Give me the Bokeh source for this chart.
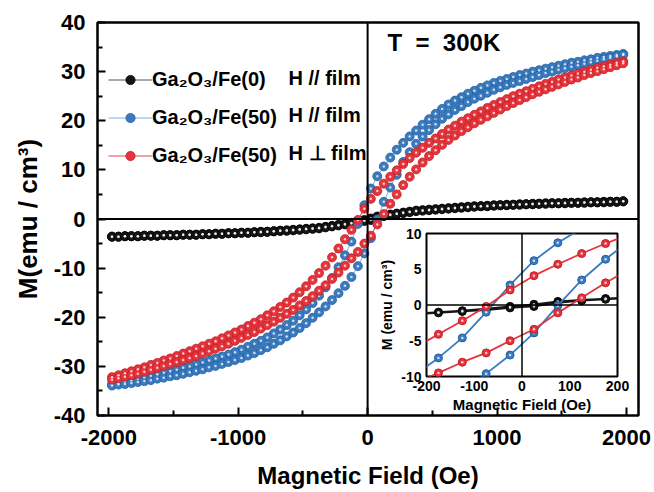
from bokeh.plotting import figure
from bokeh.models import Range1d, FixedTicker, Span, Label, Legend, LegendItem
from bokeh.layouts import column
from bokeh.embed import file_html
from bokeh.resources import INLINE

FONT = "Liberation Sans"

# Magnetic field grid (Oe), ascending
H = [-1975, -1925, -1875, -1825, -1775, -1725, -1675, -1625, -1575, -1525,
     -1475, -1425, -1375, -1325, -1275, -1225, -1175, -1125, -1075, -1025,
     -975, -925, -875, -825, -775, -725, -675, -625, -575, -525,
     -475, -425, -375, -325, -275, -225, -175, -125, -75, -25,
     25, 75, 125, 175, 225, 275, 325, 375, 425, 475,
     525, 575, 625, 675, 725, 775, 825, 875, 925, 975,
     1025, 1075, 1125, 1175, 1225, 1275, 1325, 1375, 1425, 1475,
     1525, 1575, 1625, 1675, 1725, 1775, 1825, 1875, 1925, 1975]

# Ga2O3/Fe(0), H // film  (emu/cm3)
black_upper = [-3.6, -3.6, -3.5, -3.5, -3.5, -3.4, -3.4, -3.4, -3.3, -3.3,
               -3.3, -3.2, -3.2, -3.2, -3.1, -3.1, -3.0, -3.0, -2.9, -2.9,
               -2.8, -2.8, -2.7, -2.6, -2.6, -2.5, -2.4, -2.3, -2.2, -2.1,
               -2.0, -1.9, -1.8, -1.6, -1.4, -1.2, -1.0, -0.8, -0.5, -0.2,
               0.1, 0.5, 0.7, 0.9, 1.1, 1.3, 1.5, 1.7, 1.8, 1.9,
               2.0, 2.1, 2.2, 2.3, 2.4, 2.5, 2.6, 2.6, 2.7, 2.8,
               2.8, 2.9, 2.9, 3.0, 3.0, 3.1, 3.1, 3.2, 3.2, 3.2,
               3.3, 3.3, 3.3, 3.4, 3.4, 3.4, 3.5, 3.5, 3.5, 3.6]
black_lower = [-3.6, -3.6, -3.5, -3.5, -3.5, -3.4, -3.4, -3.4, -3.3, -3.3,
               -3.3, -3.2, -3.2, -3.2, -3.1, -3.1, -3.0, -3.0, -2.9, -2.9,
               -2.8, -2.8, -2.7, -2.7, -2.6, -2.5, -2.4, -2.4, -2.3, -2.2,
               -2.1, -2.0, -1.9, -1.7, -1.5, -1.3, -1.1, -0.9, -0.7, -0.4,
               -0.2, 0.3, 0.6, 0.8, 1.0, 1.2, 1.4, 1.6, 1.7, 1.8,
               1.9, 2.0, 2.1, 2.2, 2.3, 2.4, 2.5, 2.6, 2.6, 2.7,
               2.8, 2.8, 2.9, 2.9, 3.0, 3.0, 3.1, 3.1, 3.2, 3.2,
               3.2, 3.3, 3.3, 3.3, 3.4, 3.4, 3.4, 3.5, 3.5, 3.6]

# Ga2O3/Fe(50), H // film
blue_upper = [-33.7, -33.4, -33.1, -32.8, -32.5, -32.2, -31.9, -31.6, -31.3, -31.0,
              -30.7, -30.3, -30.0, -29.6, -29.2, -28.8, -28.4, -28.0, -27.6, -27.1,
              -26.6, -26.0, -25.4, -24.8, -24.1, -23.3, -22.5, -21.6, -20.7, -19.6,
              -18.4, -17.1, -15.6, -13.9, -12.0, -9.8, -7.4, -4.6, -1.0, 2.8,
              6.2, 8.7, 10.7, 12.5, 14.1, 15.5, 16.8, 18.0, 19.2, 20.3,
              21.4, 22.4, 23.3, 24.1, 24.8, 25.5, 26.1, 26.7, 27.2, 27.7,
              28.1, 28.5, 28.9, 29.3, 29.6, 30.0, 30.3, 30.6, 30.9, 31.2,
              31.5, 31.8, 32.0, 32.3, 32.5, 32.8, 33.0, 33.2, 33.4, 33.6]
blue_lower = [-33.9, -33.7, -33.6, -33.4, -33.2, -33.0, -32.8, -32.5, -32.3, -32.0,
              -31.8, -31.5, -31.2, -30.9, -30.6, -30.2, -29.9, -29.5, -29.1, -28.7,
              -28.3, -27.8, -27.3, -26.7, -26.1, -25.4, -24.7, -23.9, -23.1, -22.2,
              -21.2, -20.1, -19.0, -17.8, -16.5, -15.1, -13.6, -11.8, -9.6, -7.0,
              -3.9, -0.1, 3.5, 6.4, 9.0, 11.6, 13.6, 15.3, 16.8, 18.1,
              19.3, 20.4, 21.3, 22.2, 23.0, 23.8, 24.5, 25.1, 25.7, 26.3,
              26.8, 27.3, 27.7, 28.1, 28.5, 28.9, 29.3, 29.7, 30.0, 30.4,
              30.7, 31.0, 31.3, 31.6, 31.9, 32.2, 32.5, 32.8, 33.1, 33.4]

# Ga2O3/Fe(50), H perpendicular to film
red_upper = [-32.2, -31.8, -31.4, -31.0, -30.6, -30.2, -29.7, -29.3, -28.8, -28.4,
             -27.9, -27.4, -26.9, -26.4, -25.9, -25.4, -24.9, -24.3, -23.7, -23.1,
             -22.5, -21.8, -21.1, -20.4, -19.6, -18.8, -17.9, -17.0, -16.0, -14.9,
             -13.7, -12.4, -11.0, -9.5, -7.8, -6.0, -4.1, -2.2, -0.2, 2.1,
             4.1, 5.7, 7.2, 8.6, 9.9, 11.2, 12.4, 13.5, 14.5, 15.5,
             16.4, 17.3, 18.2, 19.0, 19.8, 20.5, 21.2, 21.9, 22.6, 23.2,
             23.8, 24.4, 25.0, 25.5, 26.0, 26.5, 27.0, 27.5, 27.9, 28.4,
             28.8, 29.2, 29.6, 30.0, 30.4, 30.8, 31.1, 31.4, 31.8, 32.1]
red_lower = [-32.7, -32.4, -32.1, -31.8, -31.5, -31.1, -30.7, -30.3, -29.9, -29.5,
             -29.1, -28.7, -28.3, -27.9, -27.4, -26.9, -26.4, -25.9, -25.4, -24.8,
             -24.2, -23.6, -23.0, -22.3, -21.6, -20.9, -20.1, -19.3, -18.5, -17.6,
             -16.7, -15.7, -14.6, -13.5, -12.2, -10.9, -9.5, -8.0, -6.7, -5.0,
             -3.4, -1.1, 1.0, 3.1, 5.0, 6.9, 8.6, 10.1, 11.5, 12.8,
             14.0, 15.1, 16.1, 17.0, 17.9, 18.7, 19.5, 20.2, 20.9, 21.6,
             22.3, 23.0, 23.6, 24.2, 24.8, 25.4, 25.9, 26.4, 26.9, 27.4,
             27.9, 28.4, 28.8, 29.3, 29.7, 30.1, 30.5, 30.9, 31.3, 31.7]

series_names = ["Ga\u2082O\u2083/Fe(0)", "Ga\u2082O\u2083/Fe(50)", "Ga\u2082O\u2083/Fe(50)"]
field_dirs = ["H // film", "H // film", "H \u22a5 film"]
temp_text = "T\u00a0\u00a0=\u00a0\u00a0300K"

x_ticks = [-2000, -1000, 0, 1000, 2000]
x_tick_labels = ["-2000", "-1000", "0", "1000", "2000"]
x_minor = [-1500, -500, 500, 1500]
y_ticks = [-40, -30, -20, -10, 0, 10, 20, 30, 40]
y_tick_labels = ["-40", "-30", "-20", "-10", "0", "10", "20", "30", "40"]
y_minor = [-35, -25, -15, -5, 5, 15, 25, 35]

in_x_ticks = [-200, -100, 0, 100, 200]
in_x_labels = ["-200", "-100", "0", "100", "200"]
in_y_ticks = [-10, -5, 0, 5, 10]
in_y_labels = ["-10", "-5", "0", "5", "10"]

styles = [
    dict(fill="#151515", edge="#000000", line="#555555"),
    dict(fill="#3a7bc0", edge="#2560a0", line="#7fb0e0"),
    dict(fill="#e5343c", edge="#c01e26", line="#e0484e"),
]
loops = [(black_upper, black_lower), (blue_upper, blue_lower), (red_upper, red_lower)]


def loop_xy(upper, lower):
    # sweep down along the upper branch, then back up along the lower branch
    return H[::-1] + H, upper[::-1] + lower


MAIN_H = 491

# ---------------- main plot ----------------
p = figure(width=652, height=MAIN_H, min_border_left=97, min_border_right=14,
           min_border_top=22, min_border_bottom=74,
           x_range=Range1d(-2087, 2093), y_range=Range1d(-40, 40),
           output_backend="svg", toolbar_location=None)
p.grid.visible = False
p.outline_line_color = "black"
p.outline_line_width = 2.5
p.background_fill_color = "white"
p.border_fill_color = "white"

p.add_layout(Span(location=0, dimension="width", line_color="black", line_width=2))
p.add_layout(Span(location=0, dimension="height", line_color="black", line_width=2))

items = []
for (up, lo), st, name in zip(loops, styles, series_names):
    xs, ys = loop_xy(up, lo)
    ln = p.line(xs, ys, line_color=st["line"], line_width=1)
    sc = p.scatter(xs, ys, size=9, fill_color=st["fill"], line_color=st["edge"], line_width=0.8)
    p.scatter(xs, ys, size=2.5, fill_color="white", fill_alpha=0.75, line_color=None)
    items.append(LegendItem(label=name, renderers=[ln, sc]))

p.xaxis.ticker = FixedTicker(ticks=x_ticks, minor_ticks=x_minor)
p.xaxis.major_label_overrides = dict(zip(x_ticks, x_tick_labels))
p.yaxis.ticker = FixedTicker(ticks=y_ticks, minor_ticks=y_minor)
p.yaxis.major_label_overrides = dict(zip(y_ticks, y_tick_labels))

for ax in (p.xaxis[0], p.yaxis[0]):
    ax.axis_line_color = None
    ax.major_tick_in = 8
    ax.major_tick_out = 0
    ax.minor_tick_in = 5
    ax.minor_tick_out = 0
    ax.major_tick_line_width = 2
    ax.minor_tick_line_width = 2
    ax.major_tick_line_color = "black"
    ax.minor_tick_line_color = "black"
    ax.major_label_text_font = FONT
    ax.major_label_text_font_style = "bold"
    ax.major_label_text_font_size = "22px"
    ax.major_label_text_color = "black"
    ax.axis_label_text_font = FONT
    ax.axis_label_text_font_style = "bold"
    ax.axis_label_text_color = "black"

p.xaxis.axis_label = "Magnetic Field (Oe)"
p.xaxis.axis_label_text_font_size = "24px"
p.xaxis.major_label_standoff = 14
p.xaxis.axis_label_standoff = 14
p.yaxis.axis_label = "M(emu / cm\u00b3)"
p.yaxis.axis_label_text_font_size = "26px"
p.yaxis.major_label_standoff = 12
p.yaxis.axis_label_standoff = 8

legend = Legend(items=items, location=(11, 248), glyph_width=44, glyph_height=23,
                label_height=23, label_standoff=0, spacing=15, padding=0, margin=0,
                border_line_color=None, background_fill_alpha=0,
                label_text_font=FONT, label_text_font_style="bold",
                label_text_font_size="20px", label_text_color="black")
p.add_layout(legend)

for txt, yy in zip(field_dirs, [338, 300.5, 263]):
    p.add_layout(Label(x=191, y=yy, x_units="screen", y_units="screen", text=txt,
                       text_baseline="middle", text_font=FONT, text_font_style="bold",
                       text_font_size="20px", text_color="black"))

p.add_layout(Label(x=290, y=373, x_units="screen", y_units="screen", text=temp_text,
                   text_baseline="middle", text_font=FONT, text_font_style="bold",
                   text_font_size="24px", text_color="black"))

# ---------------- inset ----------------
# borders equal to the main plot's so the column's border alignment is harmless
ins = figure(width=302, height=198, min_border_left=97, min_border_right=14,
             min_border_top=10, min_border_bottom=45,
             x_range=Range1d(-200, 200), y_range=Range1d(-10, 10),
             output_backend="svg", toolbar_location=None)
ins.margin = (223 - MAIN_H, 0, 0, 329)
ins.grid.visible = False
ins.outline_line_color = "black"
ins.outline_line_width = 2
ins.background_fill_color = "white"
ins.border_fill_color = None

ins.add_layout(Span(location=0, dimension="width", line_color="black", line_width=1.5))
ins.add_layout(Span(location=0, dimension="height", line_color="black", line_width=1.5))

for (up, lo), st in zip(loops, styles):
    xs, ys = loop_xy(up, lo)
    ins.line(xs, ys, line_color=st["fill"], line_width=1.8)
    ins.scatter(xs, ys, size=8, fill_color=st["fill"], line_color=st["edge"], line_width=1)
    ins.scatter(xs, ys, size=2.5, fill_color="white", fill_alpha=0.75, line_color=None)

ins.xaxis.ticker = FixedTicker(ticks=in_x_ticks)
ins.xaxis.major_label_overrides = dict(zip(in_x_ticks, in_x_labels))
ins.yaxis.ticker = FixedTicker(ticks=in_y_ticks)
ins.yaxis.major_label_overrides = dict(zip(in_y_ticks, in_y_labels))
for ax in (ins.xaxis[0], ins.yaxis[0]):
    ax.axis_line_color = None
    ax.major_tick_in = 0
    ax.major_tick_out = 0
    ax.minor_tick_in = 0
    ax.minor_tick_out = 0
    ax.major_label_text_font = FONT
    ax.major_label_text_font_style = "bold"
    ax.major_label_text_font_size = "14px"
    ax.major_label_text_color = "black"
    ax.axis_label_text_font = FONT
    ax.axis_label_text_font_style = "bold"
    ax.axis_label_text_color = "black"
ins.xaxis.axis_label = "Magnetic Field (Oe)"
ins.xaxis.axis_label_text_font_size = "15px"
ins.xaxis.major_label_standoff = 4
ins.xaxis.axis_label_standoff = 2
ins.yaxis.axis_label = "M (emu / cm\u00b3)"
ins.yaxis.axis_label_text_font_size = "14px"
ins.yaxis.major_label_standoff = 5
ins.yaxis.axis_label_standoff = 3

layout = column(p, ins)
open("out.html", "w").write(file_html(layout, INLINE))
